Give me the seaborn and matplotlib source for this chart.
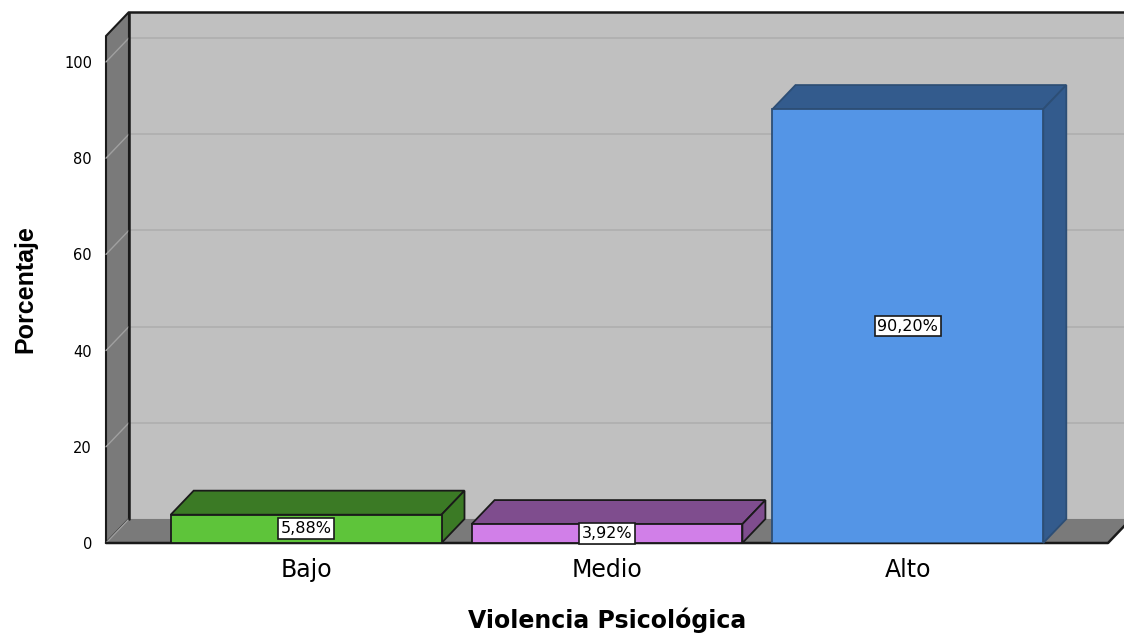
#!/usr/bin/env python3
"""
SPSS-style 3D bar chart: Violencia Psicologica (porcentaje).
"""

import pandas as pd
import matplotlib.pyplot as plt
import seaborn as sns
from matplotlib.patches import Polygon

# --- data ---
categorias = ['Bajo', 'Medio', 'Alto']
porcentajes = [5.88, 3.92, 90.20]
etiquetas = ['5,88%', '3,92%', '90,20%']
colores_frente = ['#5ec43a', '#d17fe8', '#5495e6']
colores_sombra = ['#3b7a25', '#7f4d8e', '#335b8d']
colores_borde = ['#1a1a1a', '#1a1a1a', '#2d4e75']
yticks = [0, 20, 40, 60, 80, 100]

df = pd.DataFrame({'cat': categorias, 'pct': porcentajes})

# --- layout / 3D look ---
XLIM = (-0.665, 2.665)
YTOP = 105.4
DX, DY = 0.0764, 5.0          # depth offset in data units
WALL_BACK = '#c0c0c0'
WALL_SIDE = '#7a7a7a'
EDGE = '#1a1a1a'

sns.set_style('white')
plt.rcParams['font.family'] = ['DejaVu Sans']
plt.rcParams['text.color'] = 'black'
plt.rcParams['xtick.color'] = 'black'
plt.rcParams['ytick.color'] = 'black'
plt.rcParams['axes.labelcolor'] = 'black'

fig = plt.figure(figsize=(11.24, 6.35), dpi=100)
ax = fig.add_axes([106 / 1124, 92 / 635, 1002 / 1124, 507 / 635])
ax.patch.set_visible(False)

sns.barplot(data=df, x='cat', y='pct', hue='cat', palette=colores_frente,
            width=0.9, legend=False, ax=ax, zorder=3, saturation=1)

ax.set_xlim(*XLIM)
ax.set_ylim(0, YTOP)
x0, x1 = XLIM

# back wall
ax.add_patch(Polygon([(x0 + DX, DY), (x0 + DX, YTOP + DY), (x1 + 0.2, YTOP + DY),
                      (x1 + 0.2, DY)], closed=True, fc=WALL_BACK, ec='none',
                     zorder=0, clip_on=False))
# gridlines on back wall and side wall
for v in yticks[1:]:
    ax.plot([x0 + DX, x1 + 0.2], [v + DY, v + DY], color='#adadad', lw=1.1,
            zorder=0.2, clip_on=False)
    ax.plot([x0, x0 + DX], [v, v + DY], color='#a0a0a0', lw=1.0,
            zorder=0.6, clip_on=False)
# side wall
ax.add_patch(Polygon([(x0, 0), (x0, YTOP), (x0 + DX, YTOP + DY), (x0 + DX, DY)],
                     closed=True, fc=WALL_SIDE, ec=EDGE, lw=1.5, zorder=0.5,
                     clip_on=False))
ax.plot([x0, x0 + DX], [0, DY], color='#a0a0a0', lw=1.0, zorder=0.6,
        clip_on=False)
# floor
ax.add_patch(Polygon([(x0, 0), (x1, 0), (x1 + DX, DY), (x0 + DX, DY)],
                     closed=True, fc=WALL_SIDE, ec='none', zorder=0.5,
                     clip_on=False))
ax.plot([x0, x1, x1 + DX], [0, 0, DY], color=EDGE, lw=1.8, zorder=0.7,
        clip_on=False)
# back wall outline
ax.plot([x0 + DX, x0 + DX, x1 + 0.2], [DY, YTOP + DY, YTOP + DY], color=EDGE,
        lw=1.8, zorder=0.7, clip_on=False)

# bar tops, sides and labels
for i, bar in enumerate(ax.patches[:len(categorias)]):
    bx, bw, bh = bar.get_x(), bar.get_width(), bar.get_height()
    bar.set_edgecolor(colores_borde[i])
    bar.set_linewidth(1.3)
    top = [(bx, bh), (bx + DX, bh + DY), (bx + bw + DX, bh + DY), (bx + bw, bh)]
    side = [(bx + bw, 0), (bx + bw, bh), (bx + bw + DX, bh + DY), (bx + bw + DX, DY)]
    for pts in (top, side):
        ax.add_patch(Polygon(pts, closed=True, fc=colores_sombra[i],
                             ec=colores_borde[i], lw=1.3, zorder=2.5,
                             clip_on=False))
    ax.text(bx + bw / 2, bh / 2, etiquetas[i], ha='center', va='center',
            fontsize=11.5, zorder=5,
            bbox=dict(boxstyle='square,pad=0.18', fc='white', ec=EDGE, lw=1.2))

sns.despine(ax=ax, left=True, bottom=True)
ax.set_yticks(yticks)
ax.tick_params(axis='y', length=0, pad=10, labelsize=10.5)
ax.tick_params(axis='x', length=0, pad=11, labelsize=17)
ax.set_xlabel('Violencia Psicológica', fontsize=17, fontweight='bold',
              labelpad=18)
ax.set_ylabel('Porcentaje', fontsize=18, fontweight='bold', labelpad=19,
              family=['Liberation Sans', 'DejaVu Sans'])

plt.savefig('out.png', dpi=100)
